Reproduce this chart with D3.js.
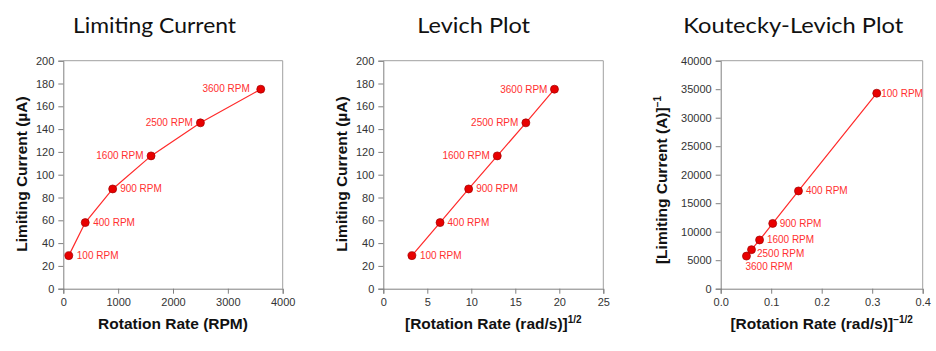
<!DOCTYPE html>
<html>
<head>
<meta charset="utf-8">
<script src="https://cdn.jsdelivr.net/npm/d3@7"></script>
<style>
  html, body { margin: 0; padding: 0; background: #fff; }
  svg { display: block; }
</style>
</head>
<body>
<svg id="chart" width="936" height="351"></svg>
<script>
// ---------------- DATA ----------------
const rpmLabels = ["100 RPM", "400 RPM", "900 RPM", "1600 RPM", "2500 RPM", "3600 RPM"];
const rotationRPM = [100, 400, 900, 1600, 2500, 3600];
const limitingCurrentUA = [29, 58, 87.5, 116.5, 145.5, 175];
const sqrtRotation = [3.25, 6.45, 9.7, 12.95, 16.2, 19.45];
const invSqrtRotation = [0.309, 0.154, 0.103, 0.077, 0.061, 0.051];
const invCurrent = [34300, 17150, 11450, 8550, 6850, 5720];

const ticksRPM = [0, 1000, 2000, 3000, 4000];
const ticksSqrt = [0, 5, 10, 15, 20, 25];
const ticksInvSqrt = [0, 0.1, 0.2, 0.3, 0.4];
const ticksCurrent = [0, 20, 40, 60, 80, 100, 120, 140, 160, 180, 200];
const ticksInvCurrent = [0, 5000, 10000, 15000, 20000, 25000, 30000, 35000, 40000];

const titles = ["Limiting Current", "Levich Plot", "Koutecky-Levich Plot"];

// ---------------- LAYOUT ----------------
const svg = d3.select("#chart");
const red = "#ff3030";

const panels = [
  {
    title: titles[0], titleX: 154.5, titleW: 163,
    left: 63.3, right: 282.7, top: 60.7, bottom: 288.7,
    xs: rotationRPM, ys: limitingCurrentUA,
    xDomain: [0, 4000], yDomain: [0, 200],
    xTicks: ticksRPM, yTicks: ticksCurrent, xFmt: d3.format("d"), yFmt: d3.format("d"),
    xLabel: [{t: "Rotation Rate (RPM)"}],
    yLabel: [{t: "Limiting Current (µA)"}], yLabelX: 26.5, yLabelY: 174,
    lab: [[8,0,"start"],[8,0,"start"],[7.5,0,"start"],[-7.5,0,"end"],[-7.5,0,"end"],[-11,-1,"end"]]
  },
  {
    title: titles[1], titleX: 473.7, titleW: 112.7,
    left: 383.3, right: 603.3, top: 60.7, bottom: 288.7,
    xs: sqrtRotation, ys: limitingCurrentUA,
    xDomain: [0, 25], yDomain: [0, 200],
    xTicks: ticksSqrt, yTicks: ticksCurrent, xFmt: d3.format("d"), yFmt: d3.format("d"),
    xLabel: [{t: "[Rotation Rate (rad/s)]"}, {t: "1/2", sup: true}],
    yLabel: [{t: "Limiting Current (µA)"}], yLabelX: 347, yLabelY: 174,
    lab: [[8,0,"start"],[7.5,0,"start"],[7.5,0,"start"],[-7.5,0,"end"],[-7.5,0,"end"],[-7,0,"end"]]
  },
  {
    title: titles[2], titleX: 793.3, titleW: 220,
    left: 720.7, right: 922.7, top: 60.7, bottom: 288.7,
    xs: invSqrtRotation, ys: invCurrent,
    xDomain: [0, 0.4], yDomain: [0, 40000],
    xTicks: ticksInvSqrt, yTicks: ticksInvCurrent, xFmt: d3.format(".1f"), yFmt: d3.format("d"),
    xLabel: [{t: "[Rotation Rate (rad/s)]"}, {t: "\u22121/2", sup: true}],
    yLabel: [{t: "[Limiting Current (A)]"}, {t: "\u22121", sup: true}], yLabelX: 666.5, yLabelY: 180,
    lab: [[4.5,0,"start"],[7.5,0,"start"],[7,0,"start"],[7.3,0,"start"],[5.5,4,"start"],[-1,10,"start"]]
  }
];

panels.forEach(p => {
  const g = svg.append("g");
  const x = d3.scaleLinear().domain(p.xDomain).range([p.left, p.right]);
  const y = d3.scaleLinear().domain(p.yDomain).range([p.bottom, p.top]);

  // Title
  g.append("text")
    .attr("x", p.titleX).attr("y", 33)
    .attr("text-anchor", "middle")
    .attr("font-family", "Lato, 'DejaVu Sans', sans-serif")
    .attr("font-size", 21)
    .attr("fill", "#111")
    .attr("textLength", p.titleW)
    .attr("lengthAdjust", "spacingAndGlyphs")
    .text(p.title);

  // Plot border (top & right)
  g.append("path")
    .attr("d", `M${p.left},${p.top}H${p.right}V${p.bottom}`)
    .attr("fill", "none").attr("stroke", "#a0a0a0").attr("stroke-width", 1);

  // Axes
  const xAxis = d3.axisBottom(x).tickValues(p.xTicks).tickFormat(p.xFmt).tickSizeOuter(0).tickSize(5).tickPadding(5);
  const yAxis = d3.axisLeft(y).tickValues(p.yTicks).tickFormat(p.yFmt).tickSizeOuter(0).tickSize(5).tickPadding(4);

  const gx = g.append("g").attr("transform", `translate(0,${p.bottom})`).call(xAxis);
  const gy = g.append("g").attr("transform", `translate(${p.left},0)`).call(yAxis);
  [gx, gy].forEach(a => {
    a.select(".domain").attr("stroke", "#808080");
    a.selectAll(".tick line").attr("stroke", "#808080");
    a.selectAll(".tick text")
      .attr("font-family", "'Liberation Sans', Arial, sans-serif")
      .attr("font-size", 11)
      .attr("fill", "#333");
  });

  // X label
  const xl = g.append("text")
    .attr("x", (p.left + p.right) / 2).attr("y", 329)
    .attr("text-anchor", "middle")
    .attr("font-family", "'Liberation Sans', Arial, sans-serif")
    .attr("font-weight", "bold").attr("font-size", 15.5).attr("fill", "#111");
  p.xLabel.forEach(s => {
    const ts = xl.append("tspan").text(s.t);
    if (s.sup) ts.attr("font-size", 10).attr("dy", -6);
  });

  // Y label
  const yl = g.append("text")
    .attr("transform", `translate(${p.yLabelX},${p.yLabelY}) rotate(-90)`)
    .attr("text-anchor", "middle")
    .attr("font-family", "'Liberation Sans', Arial, sans-serif")
    .attr("font-weight", "bold").attr("font-size", 15.5).attr("fill", "#111");
  p.yLabel.forEach(s => {
    const ts = yl.append("tspan").text(s.t);
    if (s.sup) ts.attr("font-size", 10).attr("dy", -6);
  });

  // Series
  const pts = p.xs.map((v, i) => ({x: v, y: p.ys[i], label: rpmLabels[i], i}));
  const line = d3.line().x(d => x(d.x)).y(d => y(d.y));
  g.append("path").datum(pts)
    .attr("d", line)
    .attr("fill", "none").attr("stroke", "#ff2a2a").attr("stroke-width", 1.2);

  g.selectAll("circle.pt").data(pts).enter().append("circle")
    .attr("class", "pt")
    .attr("cx", d => x(d.x)).attr("cy", d => y(d.y)).attr("r", 4)
    .attr("fill", "#e80000").attr("stroke", "#a00000").attr("stroke-width", 0.7);

  g.selectAll("text.lab").data(pts).enter().append("text")
    .attr("class", "lab")
    .attr("x", d => x(d.x) + p.lab[d.i][0])
    .attr("y", d => y(d.y) + p.lab[d.i][1])
    .attr("dy", "0.35em")
    .attr("text-anchor", d => p.lab[d.i][2])
    .attr("font-family", "'Liberation Sans', Arial, sans-serif")
    .attr("font-size", 10)
    .attr("fill", red)
    .text(d => d.label);
});
</script>
</body>
</html>
